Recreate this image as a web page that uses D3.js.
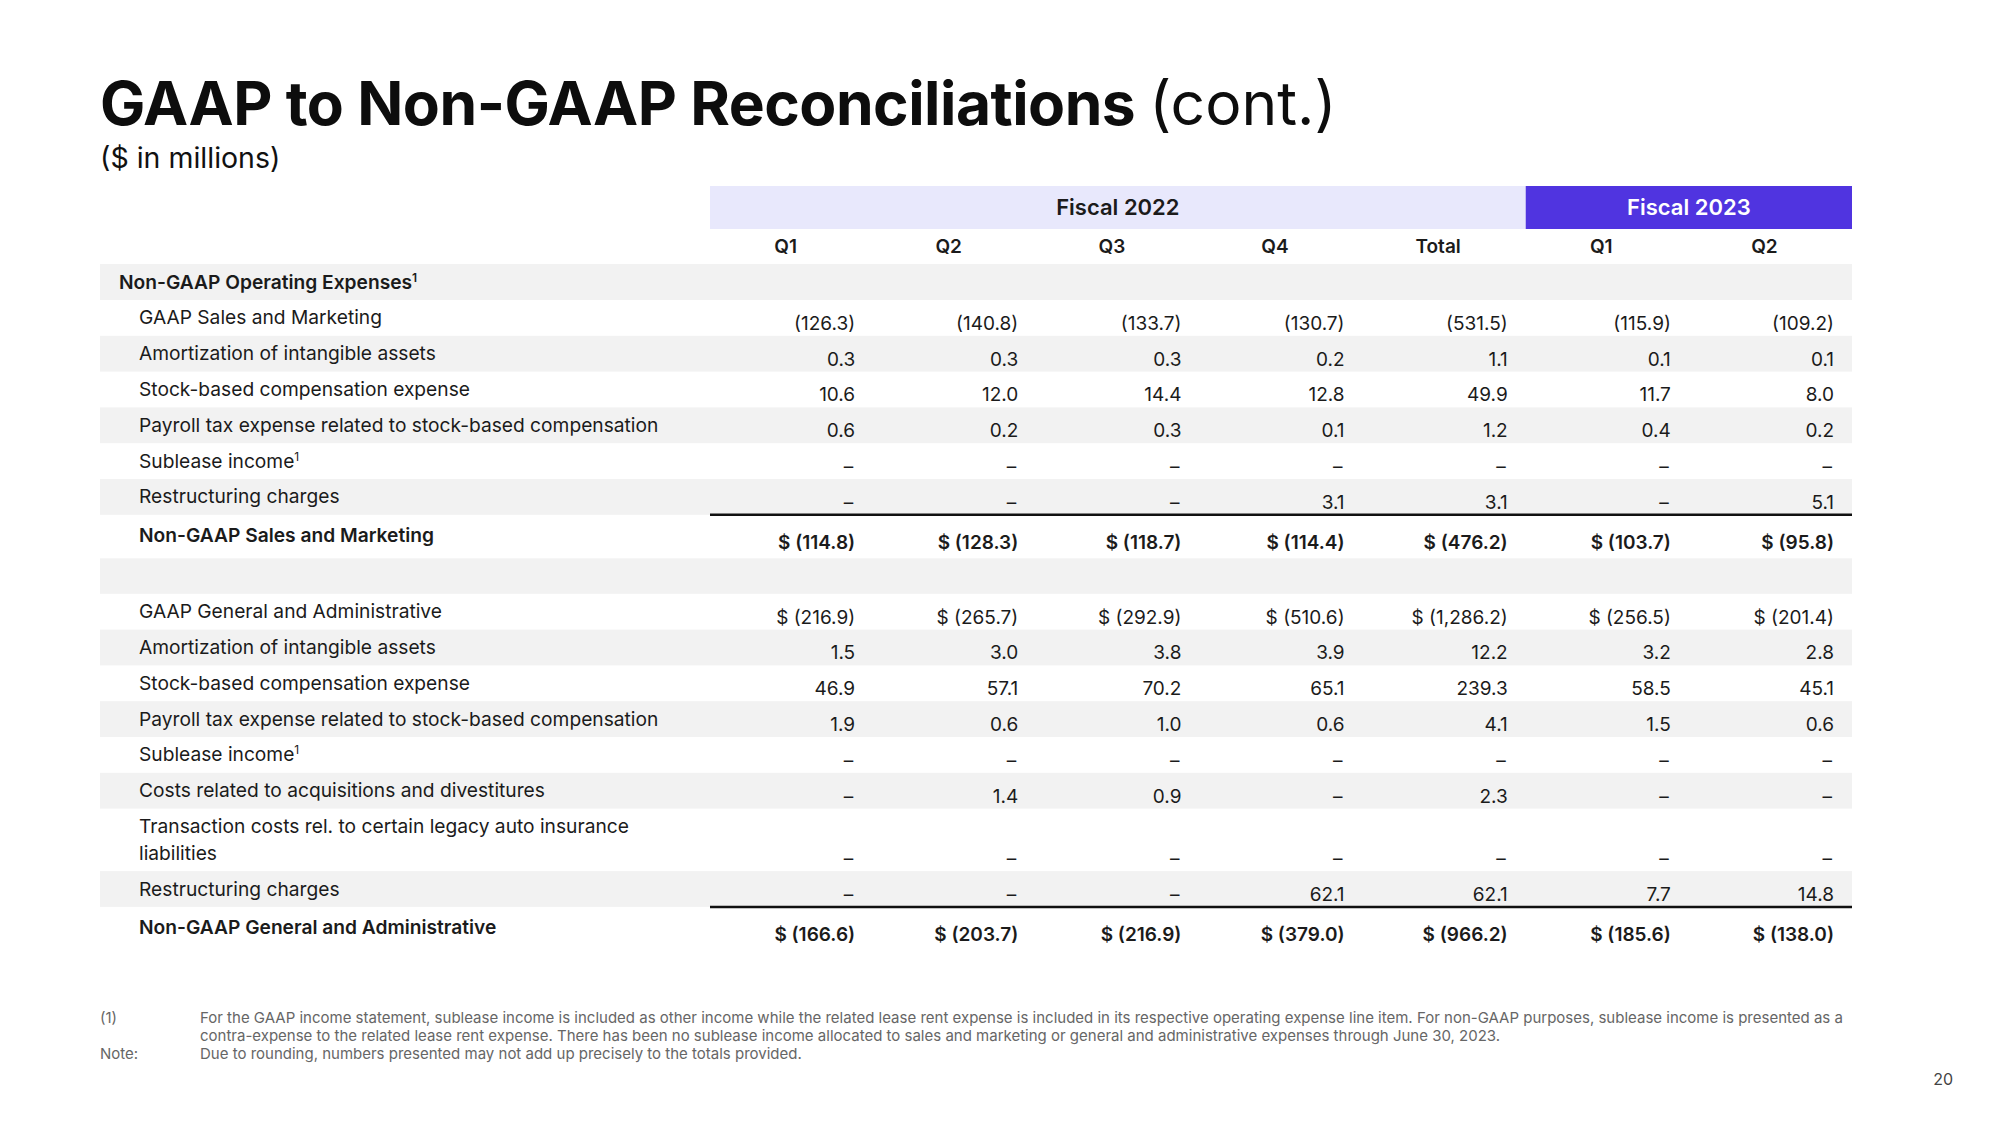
<!DOCTYPE html>
<html>
<head>
<meta charset="utf-8">
<script src="https://cdn.jsdelivr.net/npm/d3@7"></script>
<style>
  html, body { margin: 0; padding: 0; background: #fff; }
  svg { display: block; font-family: "Inter", "Noto Sans", sans-serif; }
</style>
</head>
<body>
<svg id="chart" width="2000" height="1125"></svg>
<script>
// ---------- DATA ----------
const fiscalGroups = [
  { label: "Fiscal 2022", from: 0, to: 4, dark: false },
  { label: "Fiscal 2023", from: 5, to: 6, dark: true }
];
const columns = ["Q1", "Q2", "Q3", "Q4", "Total", "Q1", "Q2"];
const columnKeys = ["FY22Q1", "FY22Q2", "FY22Q3", "FY22Q4", "FY22Total", "FY23Q1", "FY23Q2"];

// Sales and Marketing
const gaapSalesMarketing   = [-126.3, -140.8, -133.7, -130.7, -531.5, -115.9, -109.2];
const amortSM              = [0.3, 0.3, 0.3, 0.2, 1.1, 0.1, 0.1];
const sbcSM                = [10.6, 12.0, 14.4, 12.8, 49.9, 11.7, 8.0];
const payrollTaxSM         = [0.6, 0.2, 0.3, 0.1, 1.2, 0.4, 0.2];
const subleaseSM           = [null, null, null, null, null, null, null];
const restructuringSM      = [null, null, null, 3.1, 3.1, null, 5.1];
const nonGaapSalesMarketing = [-114.8, -128.3, -118.7, -114.4, -476.2, -103.7, -95.8];

// General and Administrative
const gaapGeneralAdmin     = [-216.9, -265.7, -292.9, -510.6, -1286.2, -256.5, -201.4];
const amortGA              = [1.5, 3.0, 3.8, 3.9, 12.2, 3.2, 2.8];
const sbcGA                = [46.9, 57.1, 70.2, 65.1, 239.3, 58.5, 45.1];
const payrollTaxGA         = [1.9, 0.6, 1.0, 0.6, 4.1, 1.5, 0.6];
const subleaseGA           = [null, null, null, null, null, null, null];
const acquisitionsGA       = [null, 1.4, 0.9, null, 2.3, null, null];
const legacyAutoGA         = [null, null, null, null, null, null, null];
const restructuringGA      = [null, null, null, 62.1, 62.1, 7.7, 14.8];
const nonGaapGeneralAdmin  = [-166.6, -203.7, -216.9, -379.0, -966.2, -185.6, -138.0];

const rowLabels = [
  { type: "section", label: "Non-GAAP Operating Expenses", sup: "1" },
  { type: "item", label: "GAAP Sales and Marketing", values: gaapSalesMarketing },
  { type: "item", label: "Amortization of intangible assets", values: amortSM },
  { type: "item", label: "Stock-based compensation expense", values: sbcSM },
  { type: "item", label: "Payroll tax expense related to stock-based compensation", values: payrollTaxSM },
  { type: "item", label: "Sublease income", sup: "1", values: subleaseSM },
  { type: "item", label: "Restructuring charges", values: restructuringSM },
  { type: "total", label: "Non-GAAP Sales and Marketing", values: nonGaapSalesMarketing },
  { type: "spacer" },
  { type: "item", label: "GAAP General and Administrative", values: gaapGeneralAdmin, dollar: true },
  { type: "item", label: "Amortization of intangible assets", values: amortGA },
  { type: "item", label: "Stock-based compensation expense", values: sbcGA },
  { type: "item", label: "Payroll tax expense related to stock-based compensation", values: payrollTaxGA },
  { type: "item", label: "Sublease income", sup: "1", values: subleaseGA },
  { type: "item", label: "Costs related to acquisitions and divestitures", values: acquisitionsGA },
  { type: "item2", label: "Transaction costs rel. to certain legacy auto insurance", label2: "liabilities", values: legacyAutoGA },
  { type: "item", label: "Restructuring charges", values: restructuringGA },
  { type: "total", label: "Non-GAAP General and Administrative", values: nonGaapGeneralAdmin }
];

const footnotes = [
  { mark: "(1)", lines: [
    "For the GAAP income statement, sublease income is included as other income while the related lease rent expense is included in its respective operating expense line item. For non-GAAP purposes, sublease income is presented as a",
    "contra-expense to the related lease rent expense. There has been no sublease income allocated to sales and marketing or general and administrative expenses through June 30, 2023."
  ]},
  { mark: "Note:", lines: ["Due to rounding, numbers presented may not add up precisely to the totals provided."] }
];

// ---------- LAYOUT ----------
const svg = d3.select("#chart");
const tableLeft = 100, tableRight = 1852, colLeft = 710;
const rowH = { section: 36, item: 35.8, item2: 62.5, total: 43.5, spacer: 35.5 };
const x = d3.scaleBand().domain(columnKeys).range([colLeft, tableRight]).padding(0);
const textDark = "#1b1b1b";

// Title
const title = svg.append("text").attr("x", 100).attr("y", 125)
  .attr("font-size", 60.5).attr("fill", "#0d0d0d");
title.append("tspan").attr("font-weight", 700).attr("letter-spacing", -0.5).text("GAAP to Non-GAAP Reconciliations");
title.append("tspan").attr("font-weight", 400).attr("dx", 14).text("(cont.)");

svg.append("text").attr("x", 100).attr("y", 168).attr("font-size", 28.5)
  .attr("fill", "#111").text("($ in millions)");

// Header bands
const bandTop = 186, bandH = 43;
fiscalGroups.forEach(g => {
  const x0 = x(columnKeys[g.from]);
  const x1 = x(columnKeys[g.to]) + x.bandwidth();
  svg.append("rect").attr("x", x0).attr("y", bandTop).attr("width", x1 - x0).attr("height", bandH)
    .attr("fill", g.dark ? "#5034e0" : "#e8e8fc");
  svg.append("text").attr("x", (x0 + x1) / 2).attr("y", bandTop + 29)
    .attr("text-anchor", "middle").attr("font-size", 22).attr("font-weight", 600)
    .attr("fill", g.dark ? "#ffffff" : textDark).text(g.label);
});

// Column headers
svg.selectAll("text.colhead").data(columnKeys).enter().append("text")
  .attr("class", "colhead")
  .attr("x", d => x(d) + x.bandwidth() / 2 - 6)
  .attr("y", 253)
  .attr("text-anchor", "middle").attr("font-size", 19).attr("font-weight", 600)
  .attr("fill", textDark)
  .text((d, i) => columns[i]);

// Rows
let y = 264;
let stripe = 0;
const fmt = d3.format(",.1f");
function formatValue(v, dollar) {
  if (v === null || v === undefined) return "–";
  const s = v < 0 ? "(" + fmt(-v) + ")" : fmt(v);
  return dollar ? "$ " + s : s;
}

rowLabels.forEach(r => {
  const h = rowH[r.type];
  const top = y;
  if (r.type === "section" || r.type === "spacer") {
    svg.append("rect").attr("x", tableLeft).attr("y", top).attr("width", tableRight - tableLeft)
      .attr("height", h).attr("fill", "#f2f2f2");
    stripe = 0;
  } else if (r.type === "total") {
    svg.append("line").attr("x1", colLeft).attr("x2", tableRight)
      .attr("y1", top).attr("y2", top).attr("stroke", "#111").attr("stroke-width", 2.5);
  } else {
    if (stripe % 2 === 1) {
      svg.append("rect").attr("x", tableLeft).attr("y", top).attr("width", tableRight - tableLeft)
        .attr("height", h).attr("fill", "#f2f2f2");
    }
    stripe++;
  }

  if (r.label) {
    const bold = r.type === "section" || r.type === "total";
    const lx = r.type === "section" ? 119 : 139;
    const ly = r.type === "item2" ? top + 24 : (r.type === "total" ? top + 27 : top + h / 2 + 6.5);
    const t = svg.append("text").attr("x", lx).attr("y", ly)
      .attr("font-size", 19.2).attr("font-weight", bold ? 600 : 400).attr("fill", textDark);
    t.append("tspan").text(r.label);
    if (r.sup) t.append("tspan").attr("font-size", 12).attr("dy", -7).attr("font-weight", bold ? 600 : 400).text(r.sup);
    if (r.label2) {
      svg.append("text").attr("x", lx).attr("y", ly + 27).attr("font-size", 19.2)
        .attr("fill", textDark).text(r.label2);
    }
  }

  if (r.values) {
    const isTotal = r.type === "total";
    const vy = isTotal ? top + h - 9 : top + h - 6;
    svg.selectAll(null).data(r.values).enter().append("text")
      .attr("x", (d, i) => x(columnKeys[i]) + x.bandwidth() - (d === null ? 20 : 18))
      .attr("y", vy)
      .attr("text-anchor", "end")
      .attr("font-size", 19)
      .attr("font-weight", isTotal ? 600 : 400)
      .attr("fill", textDark)
      .text(d => formatValue(d, isTotal || r.dollar));
  }
  y += h;
});

// Footnotes
let fy = 1023;
footnotes.forEach(f => {
  svg.append("text").attr("x", 100).attr("y", fy).attr("font-size", 15).attr("fill", "#666").text(f.mark);
  f.lines.forEach(line => {
    svg.append("text").attr("x", 200).attr("y", fy).attr("font-size", 15).attr("fill", "#666").text(line);
    fy += 18;
  });
});

svg.append("text").attr("x", 1953).attr("y", 1085).attr("text-anchor", "end")
  .attr("font-size", 16).attr("fill", "#444").text("20");
</script>
</body>
</html>
